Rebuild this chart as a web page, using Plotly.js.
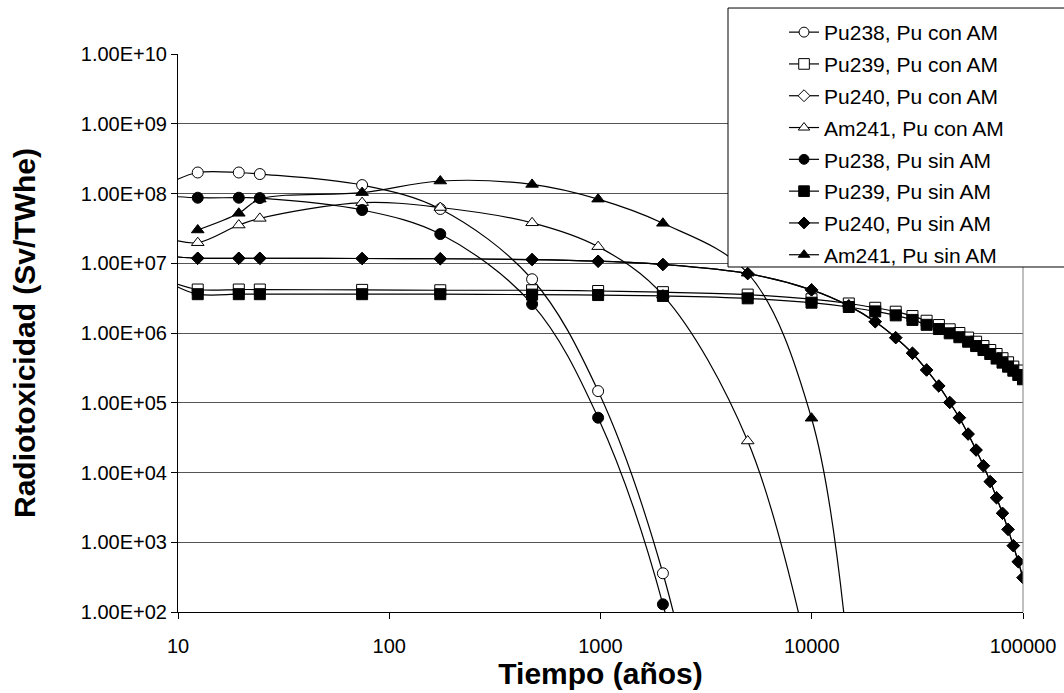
<!DOCTYPE html>
<html><head><meta charset="utf-8">
<script src="https://cdn.plot.ly/plotly-3.0.1.min.js"></script>
<style>html,body{margin:0;padding:0;background:#fff}#chart{width:1064px;height:693px}</style>
</head><body><div id="chart"></div>
<script>
// Time (years)
const years = [9.4, 12.4, 19.4, 24.4, 74.4, 174.4, 474.4, 974.4, 1974.4, 4974.4,
  9974.4, 14974.4, 19974.4, 24974.4, 29974.4, 34974.4, 39974.4, 44974.4, 49974.4, 54974.4,
  59974.4, 64974.4, 69974.4, 74974.4, 79974.4, 84974.4, 89974.4, 94974.4, 99974.4];

const pu238Con = [1.48e8, 2.0e8, 2.0e8, 1.9e8, 1.32e8, 6.0e7, 5.9e6, 1.47e5, 359, 1e-3];
const pu239Con = [5.3e6, 4.2e6, 4.2e6, 4.2e6, 4.15e6, 4.1e6, 4.1e6, 4.0e6, 3.85e6, 3.55e6,
  3.05e6, 2.65e6, 2.3e6, 2.02e6, 1.75e6, 1.5e6, 1.3e6, 1.13e6, 1.0e6, 8.6e5,
  7.5e5, 6.5e5, 5.7e5, 5.0e5, 4.35e5, 3.8e5, 3.3e5, 2.9e5, 2.5e5];
const pu240Con = [1.25e7, 1.18e7, 1.18e7, 1.18e7, 1.17e7, 1.16e7, 1.13e7, 1.07e7, 9.6e6, 7.1e6,
  4.15e6, 2.45e6, 1.45e6, 8.57e5, 5.12e5, 2.95e5, 1.74e5, 1.01e5, 6.1e4, 3.56e4,
  2.1e4, 1.25e4, 7.4e3, 4.35e3, 2.6e3, 1.53e3, 893, 526, 310];
const am241Con = [2.2e7, 1.97e7, 3.53e7, 4.4e7, 7.4e7, 6.3e7, 3.8e7, 1.73e7, 3.5e6, 2.83e4, 15];
const pu238Sin = [9.1e7, 8.7e7, 8.7e7, 8.6e7, 5.8e7, 2.62e7, 2.6e6, 6.1e4, 129, 1e-4];
const pu239Sin = [5.0e6, 3.6e6, 3.6e6, 3.6e6, 3.6e6, 3.6e6, 3.55e6, 3.5e6, 3.4e6, 3.14e6,
  2.72e6, 2.36e6, 2.04e6, 1.79e6, 1.54e6, 1.31e6, 1.14e6, 9.9e5, 8.7e5, 7.5e5,
  6.5e5, 5.7e5, 5.0e5, 4.3e5, 3.76e5, 3.29e5, 2.88e5, 2.5e5, 2.17e5];
const pu240Sin = [1.25e7, 1.18e7, 1.18e7, 1.18e7, 1.17e7, 1.16e7, 1.13e7, 1.07e7, 9.6e6, 7.1e6,
  4.15e6, 2.45e6, 1.45e6, 8.57e5, 5.12e5, 2.95e5, 1.74e5, 1.01e5, 6.1e4, 3.56e4,
  2.1e4, 1.25e4, 7.4e3, 4.35e3, 2.6e3, 1.53e3, 893, 526, 310];
const am241Sin = [null, 3.0e7, 5.2e7, 8.3e7, 1.03e8, 1.51e8, 1.35e8, 8.3e7, 3.74e7, 7.2e6, 6.0e4, 20];

const seriesNames = ['Pu238, Pu con AM', 'Pu239, Pu con AM', 'Pu240, Pu con AM', 'Am241, Pu con AM',
  'Pu238, Pu sin AM', 'Pu239, Pu sin AM', 'Pu240, Pu sin AM', 'Am241, Pu sin AM'];

const xTickVals = [10, 100, 1000, 10000, 100000];
const xTickText = ['10', '100', '1000', '10000', '100000'];
const yTickVals = [1e2, 1e3, 1e4, 1e5, 1e6, 1e7, 1e8, 1e9, 1e10];
const yTickText = ['1.00E+02', '1.00E+03', '1.00E+04', '1.00E+05', '1.00E+06', '1.00E+07', '1.00E+08', '1.00E+09', '1.00E+10'];

const seriesValues = [pu238Con, pu239Con, pu240Con, am241Con, pu238Sin, pu239Sin, pu240Sin, am241Sin];
const styles = [
  {symbol: 'circle', fill: '#ffffff', size: 11},
  {symbol: 'square', fill: '#ffffff', size: 11},
  {symbol: 'diamond', fill: '#ffffff', size: 9.5},
  {symbol: 'triangle-up', fill: '#ffffff', size: 11},
  {symbol: 'circle', fill: '#000000', size: 11},
  {symbol: 'square', fill: '#000000', size: 11},
  {symbol: 'diamond', fill: '#000000', size: 9.5},
  {symbol: 'triangle-up', fill: '#000000', size: 11}
];

const data = seriesValues.map((vals, k) => {
  const st = styles[k];
  const xs = years.slice(0, vals.length);
  const sz = vals.map((v, i) => (xs[i] < 10 ? 0 : st.size));
  return {
    type: 'scatter', mode: 'lines+markers', name: seriesNames[k], legendgroup: 'g' + k,
    x: xs, y: vals,
    line: {color: '#000000', width: 1.2, shape: 'spline', smoothing: 1},
    marker: {symbol: st.symbol, color: st.fill, size: sz, opacity: 1, line: {color: '#000000', width: 1}},
    hoverinfo: 'x+y'
  };
});

const font = 'Arial, "Liberation Sans", sans-serif';
const layout = {
  width: 1064, height: 693,
  margin: {l: 178, r: 41, t: 54, b: 81},
  paper_bgcolor: '#ffffff', plot_bgcolor: '#ffffff',
  font: {family: font, color: '#000000', size: 20},
  showlegend: true,
  legend: {
    x: 0.7172, xanchor: 'left', y: 1.0753, yanchor: 'top',
    bgcolor: 'rgba(0,0,0,0)', borderwidth: 0,
    font: {family: font, size: 21, color: '#000000'},
    tracegroupgap: 1.5
  },
  xaxis: {
    type: 'log', range: [1, 5],
    tickmode: 'array', tickvals: xTickVals, ticktext: xTickText,
    ticks: 'outside', ticklen: 6, tickwidth: 1, tickcolor: '#000000',
    showline: true, linecolor: '#000000', linewidth: 1,
    showgrid: false, zeroline: false,
    tickfont: {family: font, size: 20, color: '#000000'},
    ticklabelstandoff: 10,
    title: {text: 'Tiempo (años)', font: {family: font, size: 30, weight: 'bold', color: '#000000'}, standoff: 5}
  },
  yaxis: {
    type: 'log', range: [2, 10],
    tickmode: 'array', tickvals: yTickVals, ticktext: yTickText,
    ticks: 'outside', ticklen: 6, tickwidth: 1, tickcolor: '#000000',
    showline: true, linecolor: '#000000', linewidth: 1,
    showgrid: true, gridcolor: '#555555', gridwidth: 1, zeroline: false,
    tickfont: {family: font, size: 20, color: '#000000'},
    title: {text: 'Radiotoxicidad (Sv/TWhe)', font: {family: font, size: 30, weight: 'bold', color: '#000000'}, standoff: 36}
  },
  shapes: [
    {type: 'line', xref: 'paper', yref: 'paper', x0: 1, x1: 1, y0: 0, y1: 1, line: {color: '#808080', width: 1}, layer: 'above'},
    {type: 'rect', xref: 'paper', yref: 'paper', x0: 0.6509, x1: 1.0533, y0: 0.6183, y1: 1.0824,
     fillcolor: '#ffffff', line: {color: '#000000', width: 1}, layer: 'above'}
  ]
};

Plotly.newPlot('chart', data, layout, {displayModeBar: false, staticPlot: true});
</script>
</body></html>
